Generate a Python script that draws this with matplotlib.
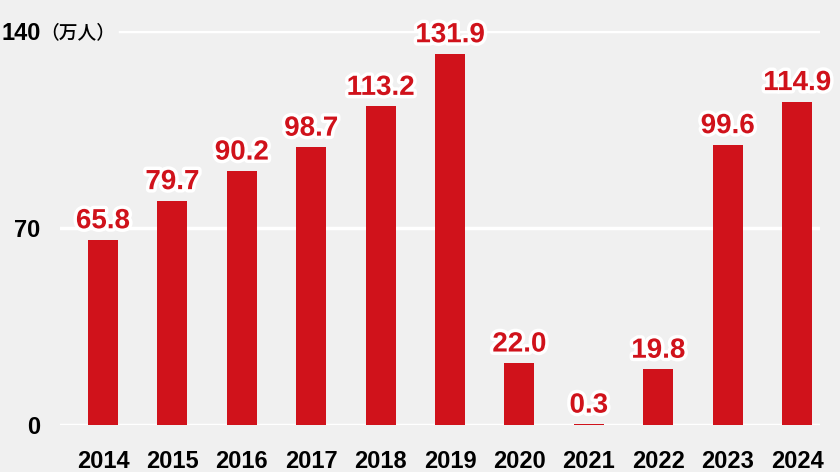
import matplotlib.pyplot as plt
import matplotlib.patheffects as pe

plt.rcParams['font.family'] = ['Liberation Sans', 'Noto Sans CJK JP', 'DejaVu Sans']

years = ['2014', '2015', '2016', '2017', '2018', '2019', '2020', '2021', '2022', '2023', '2024']
visitors = [65.8, 79.7, 90.2, 98.7, 113.2, 131.9, 22.0, 0.3, 19.8, 99.6, 114.9]
labels = ['65.8', '79.7', '90.2', '98.7', '113.2', '131.9', '22.0', '0.3', '19.8', '99.6', '114.9']
yticks = [0, 70, 140]

W, H = 840, 472
bg = '#f0f0f0'
red = '#d0121b'

fig = plt.figure(figsize=(W / 100, H / 100), dpi=100, facecolor=bg)
ax = fig.add_axes([60 / W, (H - 425) / H, 760 / W, (425 - 31) / H])
ax.set_facecolor(bg)

x = list(range(len(years)))
ax.set_xlim(-0.62, 10.33)
ax.set_ylim(0, 140)

# gridlines (white)
ax.axhline(0, color='white', lw=2.5, zorder=1)
ax.axhline(70, color='white', lw=2.5, zorder=1)
ax.axhline(140, xmin=60 / 760, color='white', lw=2.5, zorder=1)

ax.bar(x, visitors, width=0.432, color=red, zorder=2)

for xi, v, lab in zip(x, visitors, labels):
    ax.annotate(lab, (xi, v), xytext=(0, 4), textcoords='offset points',
                ha='center', va='bottom', fontsize=20, fontweight='bold', color=red,
                path_effects=[pe.withStroke(linewidth=5, foreground='white')], zorder=3)

for s in ax.spines.values():
    s.set_visible(False)

ax.set_xticks(x)
ax.set_xticklabels(years, fontsize=17, fontweight='bold')
ax.tick_params(axis='x', length=0, pad=18)

ax.set_yticks(yticks)
ax.set_yticklabels([str(t) for t in yticks], fontsize=17, fontweight='bold')
ax.tick_params(axis='y', length=0, pad=14)

fig.text(40 / W, (H - 33) / H, '（万人）', fontsize=13.5, ha='left', va='center',
         fontweight='medium', family=['Noto Sans CJK JP', 'DejaVu Sans'])

fig.savefig('out.png', dpi=100, facecolor=bg)
